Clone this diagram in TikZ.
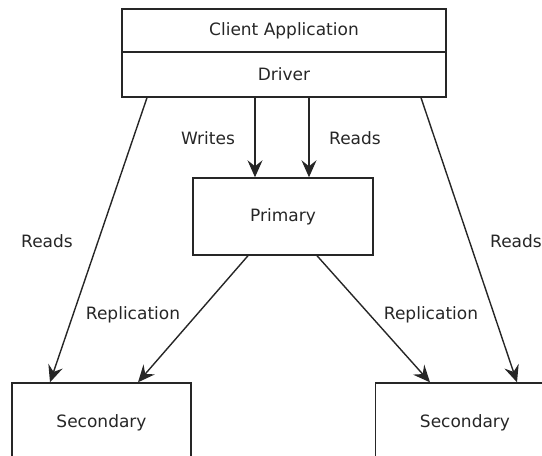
\documentclass[tikz,border=0pt]{standalone}
\usepackage{fontspec}
\setmainfont{DejaVu Sans}
\usetikzlibrary{arrows.meta}
\begin{document}
\begin{tikzpicture}[x=1pt,y=-1pt,
  font=\fontsize{17}{20}\selectfont,
  box/.style={draw=black!85,line width=1.4pt,rectangle,inner sep=0pt,text=black!85},
  lbl/.style={text=black!85,inner sep=0pt},
  arr/.style={draw=black!85,line width=1.4pt,-{Stealth[length=17pt,width=15pt,inset=6pt]}}]
\useasboundingbox (0,0) rectangle (542,456);
\clip (0,0) rectangle (542,456);
% client application with its driver layer
\node[box,minimum width=324pt,minimum height=43pt] (client) at (284,30.5) {Client Application};
\node[box,minimum width=324pt,minimum height=45pt] (driver) at (284,74.5) {Driver};
% replica set members
\node[box,minimum width=180pt,minimum height=77pt] (primary) at (283,216.5) {Primary};
\node[box,minimum width=179pt,minimum height=80pt] (secA) at (101.5,423) {Secondary};
\node[box,minimum width=179pt,minimum height=80pt] (secB) at (465,423) {Secondary};
% driver to primary
\draw[arr] ([xshift=-29pt]driver.south) -- ([xshift=-28pt]primary.north);
\draw[arr] ([xshift=25pt]driver.south) -- ([xshift=26pt]primary.north);
% driver reads from secondaries
\draw[arr] ([xshift=-137pt]driver.south) -- ([xshift=-51.5pt]secA.north);
\draw[arr] ([xshift=137pt]driver.south) -- ([xshift=52pt]secB.north);
% replication
\draw[arr] ([xshift=-35pt]primary.south) -- ([xshift=36.5pt]secA.north);
\draw[arr] ([xshift=34pt]primary.south) -- ([xshift=-35pt]secB.north);
% labels
\node[lbl] (lw) at (208,138) {Writes};
\node[lbl] (lr) at (355,138) {Reads};
\node[lbl] (lra) at (47,241) {Reads};
\node[lbl] (lrb) at (516,241) {Reads};
\node[lbl] (lpa) at (133,315) {Replication};
\node[lbl] (lpb) at (431,315) {Replication};
\end{tikzpicture}
\end{document}
